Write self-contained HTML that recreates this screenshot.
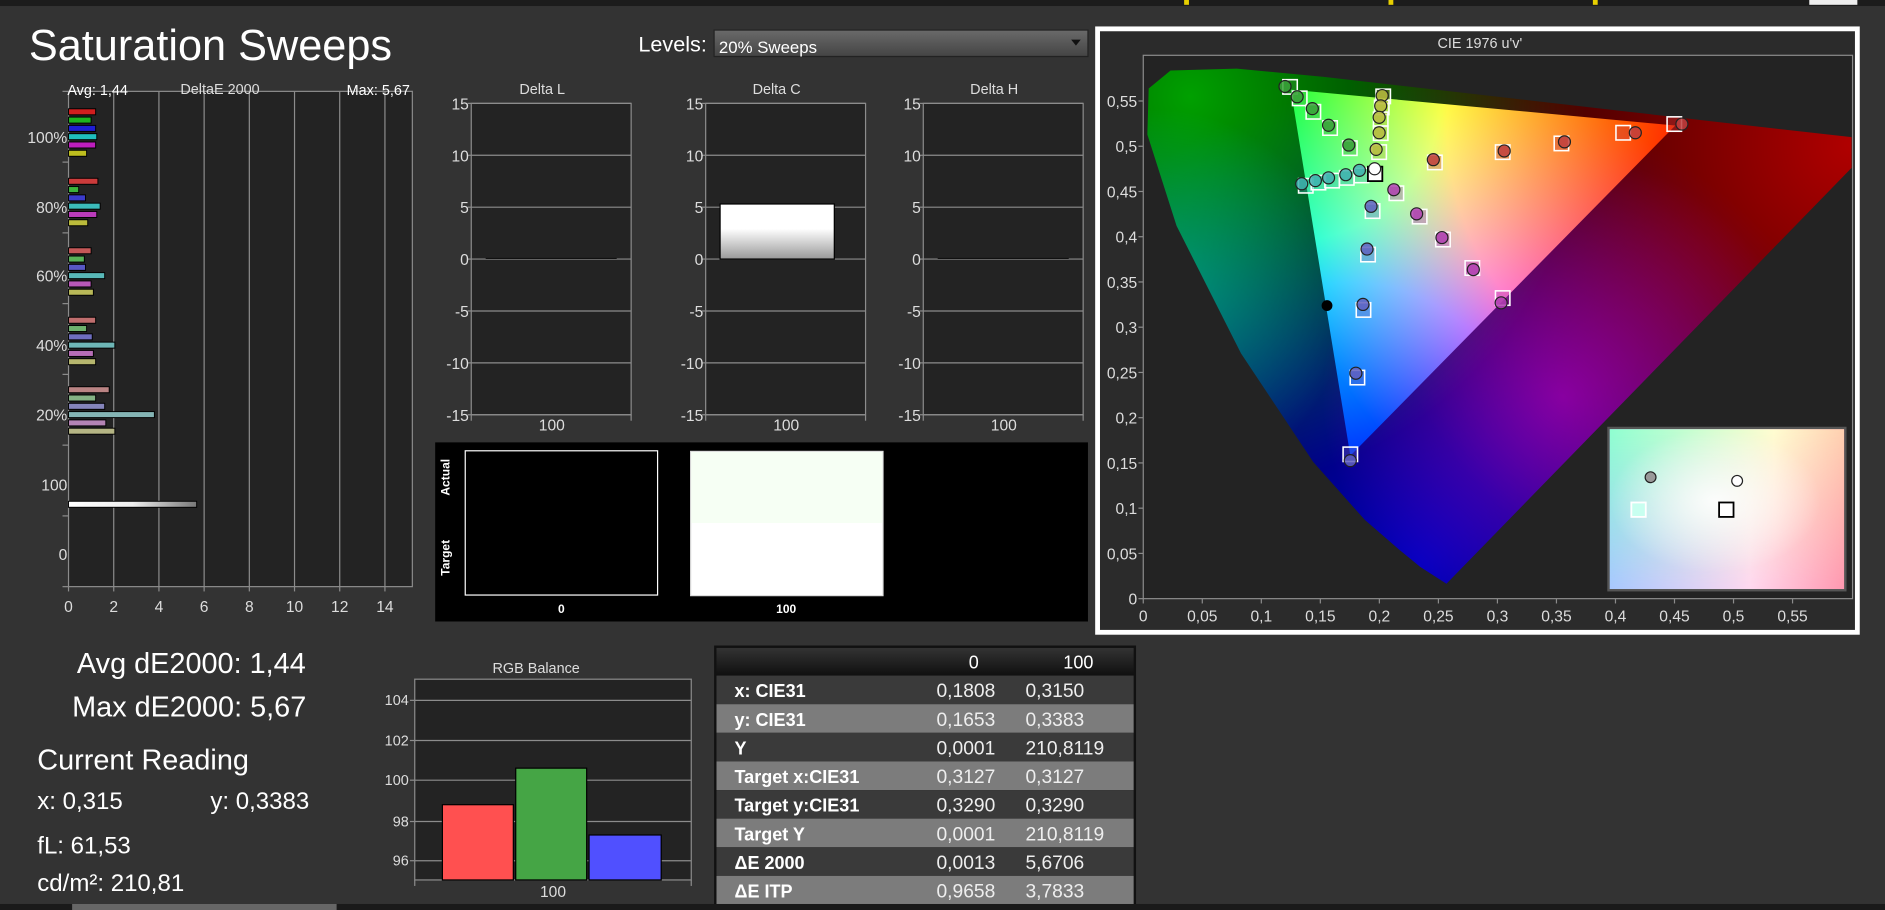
<!DOCTYPE html>
<html><head><meta charset="utf-8"><style>
html,body{margin:0;padding:0;background:#333;overflow:hidden}
svg{display:block}
text{font-family:"Liberation Sans",sans-serif}
</style></head><body>
<svg id="s" xmlns="http://www.w3.org/2000/svg" width="1885" height="910" viewBox="0 0 1568 757" preserveAspectRatio="none">
<defs>
<linearGradient id="dd" x1="0" y1="0" x2="0" y2="1"><stop offset="0" stop-color="#6a6a6a"/><stop offset="1" stop-color="#444"/></linearGradient>
<linearGradient id="wb" x1="0" y1="0" x2="0" y2="1"><stop offset="0" stop-color="#fff"/><stop offset="0.45" stop-color="#fff"/><stop offset="1" stop-color="#999"/></linearGradient>
<linearGradient id="wbar" x1="0" y1="0" x2="1" y2="0"><stop offset="0" stop-color="#fff"/><stop offset="0.5" stop-color="#eee"/><stop offset="1" stop-color="#777"/></linearGradient>
<linearGradient id="hdr" x1="0" y1="0" x2="0" y2="1"><stop offset="0" stop-color="#333"/><stop offset="1" stop-color="#111"/></linearGradient>
<radialGradient id="gR" cx="1431.6" cy="104.4" r="380" gradientUnits="userSpaceOnUse"><stop offset="0" stop-color="#ff0000"/><stop offset="0.6" stop-color="#ff0000"/><stop offset="1" stop-color="#000"/></radialGradient>
<radialGradient id="gG" cx="1073.7" cy="74.6" r="360" gradientUnits="userSpaceOnUse"><stop offset="0" stop-color="#00ff00"/><stop offset="0.35" stop-color="#00ff00"/><stop offset="1" stop-color="#000"/></radialGradient>
<radialGradient id="gB" cx="1123" cy="379" r="360" gradientUnits="userSpaceOnUse"><stop offset="0" stop-color="#0000ff"/><stop offset="0.4" stop-color="#0000ff"/><stop offset="1" stop-color="#000"/></radialGradient>
<radialGradient id="oR" cx="1540" cy="120" r="420" gradientUnits="userSpaceOnUse"><stop offset="0" stop-color="#b00000"/><stop offset="1" stop-color="#000"/></radialGradient>
<radialGradient id="oG" cx="990" cy="80" r="330" gradientUnits="userSpaceOnUse"><stop offset="0" stop-color="#00a000"/><stop offset="1" stop-color="#000"/></radialGradient>
<radialGradient id="oB" cx="1180" cy="470" r="400" gradientUnits="userSpaceOnUse"><stop offset="0" stop-color="#0000c0"/><stop offset="1" stop-color="#000"/></radialGradient>
<radialGradient id="oC" cx="960" cy="250" r="160" gradientUnits="userSpaceOnUse"><stop offset="0" stop-color="#006a6a"/><stop offset="1" stop-color="#000"/></radialGradient>
<radialGradient id="oP" cx="1300" cy="330" r="200" gradientUnits="userSpaceOnUse"><stop offset="0" stop-color="#700060"/><stop offset="1" stop-color="#000"/></radialGradient>
<linearGradient id="in1" x1="0" y1="0" x2="1" y2="0"><stop offset="0" stop-color="#8fffd0"/><stop offset="0.7" stop-color="#fffdd0"/><stop offset="1" stop-color="#ffd0b0"/></linearGradient>
<linearGradient id="in2" x1="0" y1="0" x2="1" y2="0"><stop offset="0" stop-color="#a8c8ff"/><stop offset="0.6" stop-color="#ffd8f0"/><stop offset="1" stop-color="#ff98b0"/></linearGradient>
<linearGradient id="inv" x1="0" y1="0" x2="0" y2="1"><stop offset="0" stop-color="#fff" stop-opacity="1"/><stop offset="1" stop-color="#fff" stop-opacity="0"/></linearGradient>
<mask id="imask"><rect x="1339" y="357" width="195" height="133" fill="url(#inv)"/></mask>
<radialGradient id="inw" cx="0.45" cy="0.45" r="0.45"><stop offset="0" stop-color="#fff" stop-opacity="0.9"/><stop offset="1" stop-color="#fff" stop-opacity="0"/></radialGradient>
</defs>
<rect width="1568" height="757" fill="#333"/>
<rect width="1568" height="5" fill="#1c1c1c"/>
<rect x="985" y="0" width="4" height="4" fill="#e8d000"/><rect x="1155" y="0" width="4" height="4" fill="#e8d000"/><rect x="1325" y="0" width="4" height="4" fill="#e8d000"/>
<rect x="1505" y="0" width="40" height="4" fill="#eee"/>
<text x="24" y="50" font-size="36" fill="#fff">Saturation Sweeps</text>
<text x="531" y="43" font-size="18" fill="#fff">Levels:</text>
<rect x="594" y="25" width="311" height="22" fill="url(#dd)" stroke="#222"/>
<text x="598" y="44" font-size="14" fill="#fff">20% Sweeps</text>
<path d="M891 33 L899 33 L895 38 Z" fill="#111"/>
<g id="g"></g>
<text x="64" y="560" font-size="24" fill="#fff">Avg dE2000: 1,44</text>
<text x="60" y="596" font-size="24" fill="#fff">Max dE2000: 5,67</text>
<text x="31" y="640" font-size="24" fill="#fff">Current Reading</text>
<text x="31" y="673" font-size="20" fill="#fff">x: 0,315</text>
<text x="175" y="673" font-size="20" fill="#fff">y: 0,3383</text>
<text x="31" y="710" font-size="20" fill="#fff">fL: 61,53</text>
<text x="31" y="741" font-size="20" fill="#fff">cd/m²: 210,81</text>
<rect x="0" y="752" width="1568" height="5" fill="#1a1a1a"/>
<rect x="60" y="752" width="220" height="5" fill="#666"/>
</svg>
<script>
const NS="http://www.w3.org/2000/svg",G=document.getElementById('g');
function el(t,a,txt,p){const e=document.createElementNS(NS,t);for(const k in a)e.setAttribute(k,a[k]);if(txt!==undefined)e.textContent=txt;(p||G).appendChild(e);return e;}
const GR="#8c8c8c",TX="#ddd";
el('rect',{x:57,y:76,width:286,height:412,fill:"#232323",stroke:GR});
for(let i=1;i<=7;i++){const x=57+i*2*18.8;el('line',{x1:x,y1:76,x2:x,y2:488,stroke:GR});}
for(let i=0;i<=7;i++){const x=57+i*2*18.8;el('text',{x:x,y:509,'font-size':13,fill:TX,'text-anchor':'middle'},String(i*2));el('line',{x1:x,y1:488,x2:x,y2:492,stroke:GR});}
for(let i=0;i<=7;i++){const y=76+i*58.86;el('line',{x1:52,y1:y,x2:57,y2:y,stroke:GR});}
const lab=[["100%",119],["80%",177],["60%",234],["40%",292],["20%",350],["100",408],["0",466]];
lab.forEach(l=>el('text',{x:56,y:l[1],'font-size':13,fill:TX,'text-anchor':'end'},l[0]));
el('text',{x:56,y:79,'font-size':12,fill:'#fff'},'Avg: 1,44');
el('text',{x:183,y:78,'font-size':12,fill:TX,'text-anchor':'middle'},'DeltaE 2000');
el('text',{x:341,y:79,'font-size':12,fill:'#fff','text-anchor':'end'},'Max: 5,67');
const base=[[210,30,30],[30,180,30],[30,30,210],[30,190,190],[190,30,190],[190,190,30]];
const vals=[[1.2,1.0,1.2,1.25,1.2,0.8],[1.3,0.45,0.75,1.4,1.25,0.85],[1.0,0.7,0.75,1.6,1.0,1.1],[1.2,0.8,1.05,2.05,1.1,1.2],[1.8,1.2,1.6,3.8,1.65,2.05]];
const sat=[1,0.8,0.6,0.45,0.3];
vals.forEach((g,gi)=>{g.forEach((v,bi)=>{const c=base[bi].map(x=>Math.round(x*sat[gi]+175*(1-sat[gi])));
el('rect',{x:57,y:90.5+gi*57.8+bi*6.9,width:v*18.8,height:5,fill:`rgb(${c})`,stroke:'#000','stroke-width':0.8});});});
el('rect',{x:57,y:417,width:5.67*18.8,height:5,fill:'url(#wbar)',stroke:'#000','stroke-width':0.8});
[[392,'Delta L'],[587,'Delta C'],[768,'Delta H']].forEach(([L,t],k)=>{
el('rect',{x:L,y:86,width:133,height:259,fill:"#232323",stroke:GR});
for(let i=0;i<=6;i++){const y=86+i*43.17;el('line',{x1:L,y1:y,x2:L+133,y2:y,stroke:GR});el('line',{x1:L-3,y1:y,x2:L,y2:y,stroke:GR});
el('text',{x:L-2,y:y+5,'font-size':13,fill:TX,'text-anchor':'end'},String(15-5*i));}
el('line',{x1:L,y1:345,x2:L,y2:350,stroke:GR});el('line',{x1:L+133,y1:345,x2:L+133,y2:350,stroke:GR});
el('text',{x:L+59,y:78,'font-size':12,fill:TX,'text-anchor':'middle'},t);
el('text',{x:L+67,y:358,'font-size':13,fill:TX,'text-anchor':'middle'},'100');
if(k==1)el('rect',{x:L+12,y:169.7,width:95,height:45.8,fill:'url(#wb)',stroke:'#000'});
else el('line',{x1:L+12,y1:215,x2:L+121,y2:215,stroke:'#111','stroke-width':1});
});
el('rect',{x:362,y:368,width:543,height:149,fill:'#000'});
el('rect',{x:387,y:375,width:160,height:120,fill:'#000',stroke:'#fff'});
el('rect',{x:574.5,y:375.5,width:160,height:120,fill:'#fff',stroke:'#ddd'});
el('rect',{x:575,y:376,width:159,height:59,fill:'#f6fff4'});
el('text',{x:467,y:510,'font-size':10,fill:'#fff','text-anchor':'middle','font-weight':'bold'},'0');
el('text',{x:654,y:510,'font-size':10,fill:'#fff','text-anchor':'middle','font-weight':'bold'},'100');
el('text',{x:374,y:397,'font-size':10,fill:'#fff','text-anchor':'middle','font-weight':'bold',transform:'rotate(-90 374 397)'},'Actual');
el('text',{x:374,y:464,'font-size':10,fill:'#fff','text-anchor':'middle','font-weight':'bold',transform:'rotate(-90 374 464)'},'Target');
el('rect',{x:913,y:24,width:632,height:502,fill:'#2b2b2b',stroke:'#fff','stroke-width':4});
el('text',{x:1231,y:40,'font-size':12,fill:TX,'text-anchor':'middle'},"CIE 1976 u'v'");
el('rect',{x:951,y:46,width:590,height:452,fill:'#232323',stroke:GR});
const X=u=>951+u*982,Y=v=>498-v*752.7;
const loc=[[0.2568,0.0165],[0.2347,0.035],[0.216,0.055],[0.1877,0.087],[0.144,0.151],[0.0828,0.271],[0.0282,0.412],[0.0035,0.513],[0.0046,0.5638],[0.0231,0.5837],[0.0792,0.5857],[0.1531,0.5766],[0.2623,0.5604],[0.4035,0.5393],[0.52,0.5219],[0.6,0.51],[0.6,0.476]];
const hs=loc.map(p=>X(p[0]).toFixed(1)+','+Y(p[1]).toFixed(1)).join(' ');
const cp=el('clipPath',{id:'hc'});el('polygon',{points:hs},undefined,cp);
const tp=el('clipPath',{id:'tc'});const tri=[[0.4507,0.5229],[0.125,0.5625],[0.1754,0.1579]].map(p=>X(p[0])+','+Y(p[1])).join(' ');el('polygon',{points:tri},undefined,tp);
const hg=el('g',{'clip-path':'url(#hc)',style:'isolation:isolate'});
el('rect',{x:940,y:40,width:610,height:470,fill:'#000'},undefined,hg);
['oR','oG','oB','oC','oP'].forEach(id=>el('rect',{x:940,y:40,width:610,height:470,fill:`url(#${id})`,style:'mix-blend-mode:screen'},undefined,hg));
const tg=el('g',{'clip-path':'url(#tc)',style:'isolation:isolate'});
el('rect',{x:1000,y:60,width:460,height:340,fill:'#000'},undefined,tg);
['gR','gG','gB'].forEach(id=>el('rect',{x:1000,y:60,width:460,height:340,fill:`url(#${id})`,style:'mix-blend-mode:screen'},undefined,tg));
const ul=['0','0,05','0,1','0,15','0,2','0,25','0,3','0,35','0,4','0,45','0,5','0,55'];
ul.forEach((s,i)=>{const x=X(i*0.05);el('line',{x1:x,y1:498,x2:x,y2:502,stroke:GR});el('text',{x:x,y:517,'font-size':13,fill:TX,'text-anchor':'middle'},s);
const y=Y(i*0.05);el('line',{x1:947,y1:y,x2:951,y2:y,stroke:GR});el('text',{x:946,y:y+5,'font-size':13,fill:TX,'text-anchor':'end'},s);});
const zx=x=>951+(x-100)*0.4211,zy=y=>498-(1462-y)*0.329;
const pts=[
['#3aa03a',[[380,167],[404,193],[434,223],[466,265],[506,315]],[[390,168],[409,197],[436,231],[469,272],[508,323]]],
['#b8b840',[[572,190],[569,216],[566,245],[566,284],[560,326]],[[574,192],[571,220],[569,250],[569,285],[566,333]]],
['#40b0b0',[[413,413],[440,405],[466,398],[500,390],[527,379]],[[421,418],[446,410],[473,405],[502,398],[531,392]]],
['#c04040',[[1164,262],[1072,284],[932,307],[813,330],[673,352]],[[1149,262],[1048,284],[926,311],[810,333],[676,359]]],
['#b040b0',[[807,714],[752,630],[690,549],[640,489],[595,428]],[[810,702],[750,626],[692,554],[646,496],[600,437]]],
['#6060c0',[[509,1113],[520,892],[534,718],[542,578],[550,470]],[[509,1097],[523,903],[535,732],[544,592],[553,482]]]];
pts.forEach(([c,cs,ss])=>{ss.forEach(p=>el('rect',{x:zx(p[0])-6,y:zy(p[1])-6,width:12,height:12,fill:c,'fill-opacity':0.35,stroke:'#fff','stroke-width':1.3}));
cs.forEach(p=>el('circle',{cx:zx(p[0]),cy:zy(p[1]),r:5,fill:c,'fill-opacity':0.85,stroke:'#222'}));});
el('rect',{x:zx(558)-6,y:zy(388)-6,width:12,height:12,fill:'#fff',stroke:'#000','stroke-width':1.5});
el('circle',{cx:zx(557),cy:zy(375),r:5,fill:'#fff',stroke:'#222'});
el('circle',{cx:zx(463),cy:zy(721),r:4.5,fill:'#000'});
el('rect',{x:1338,y:356,width:197,height:135,fill:'#444',stroke:'#555','stroke-width':2});
el('rect',{x:1339,y:357,width:195,height:133,fill:'url(#in2)'});
el('rect',{x:1339,y:357,width:195,height:133,fill:'url(#in1)',mask:'url(#imask)'});
el('rect',{x:1339,y:357,width:195,height:133,fill:'url(#inw)'});
el('circle',{cx:1373,cy:397,r:4.5,fill:'#999',stroke:'#222'});
el('circle',{cx:1445,cy:400,r:4.5,fill:'#fff',stroke:'#222'});
el('rect',{x:1357,y:418,width:12,height:12,fill:'#c8fff0',stroke:'#fff','stroke-width':1.5});
el('rect',{x:1430,y:418,width:12,height:12,fill:'#fff',stroke:'#000','stroke-width':1.5});
el('text',{x:446,y:560,'font-size':12,fill:TX,'text-anchor':'middle'},'RGB Balance');
el('rect',{x:345,y:565,width:230,height:167,fill:'#232323',stroke:GR});
[[104,582.6],[102,616],[100,649],[98,683.4],[96,716]].forEach(([v,y])=>{el('line',{x1:345,y1:y,x2:575,y2:y,stroke:GR});el('line',{x1:341,y1:y,x2:345,y2:y,stroke:GR});el('text',{x:340,y:y+4,'font-size':12,fill:TX,'text-anchor':'end'},String(v));});
el('rect',{x:368,y:669.4,width:59,height:62.6,fill:'#ff5050',stroke:'#000'});
el('rect',{x:429,y:639,width:59,height:93,fill:'#45a545',stroke:'#000'});
el('rect',{x:490,y:694.6,width:60,height:37.4,fill:'#5050ff',stroke:'#000'});
el('line',{x1:345,y1:732,x2:345,y2:737,stroke:GR});el('line',{x1:575,y1:732,x2:575,y2:737,stroke:GR});
el('text',{x:460,y:746,'font-size':13,fill:TX,'text-anchor':'middle'},'100');
el('rect',{x:594,y:537,width:351,height:215,fill:'#111'});
el('rect',{x:596,y:539,width:347,height:22,fill:'url(#hdr)'});
el('text',{x:810,y:556,'font-size':15,fill:'#fff','text-anchor':'middle'},'0');
el('text',{x:897,y:556,'font-size':15,fill:'#fff','text-anchor':'middle'},'100');
const rows=[['x: CIE31','0,1808','0,3150'],['y: CIE31','0,1653','0,3383'],['Y','0,0001','210,8119'],['Target x:CIE31','0,3127','0,3127'],['Target y:CIE31','0,3290','0,3290'],['Target Y','0,0001','210,8119'],['ΔE 2000','0,0013','5,6706'],['ΔE ITP','0,9658','3,7833']];
rows.forEach((r,i)=>{const y=562+i*23.8;el('rect',{x:596,y:y,width:347,height:23.8,fill:i%2?'#7c7c7c':'#3a3a3a'});
el('text',{x:611,y:y+18,'font-size':15,'font-weight':'bold',fill:'#fff'},r[0]);
el('text',{x:779,y:y+18,'font-size':16,fill:'#eee'},r[1]);
el('text',{x:853,y:y+18,'font-size':16,fill:'#eee'},r[2]);});
</script>
</body></html>
